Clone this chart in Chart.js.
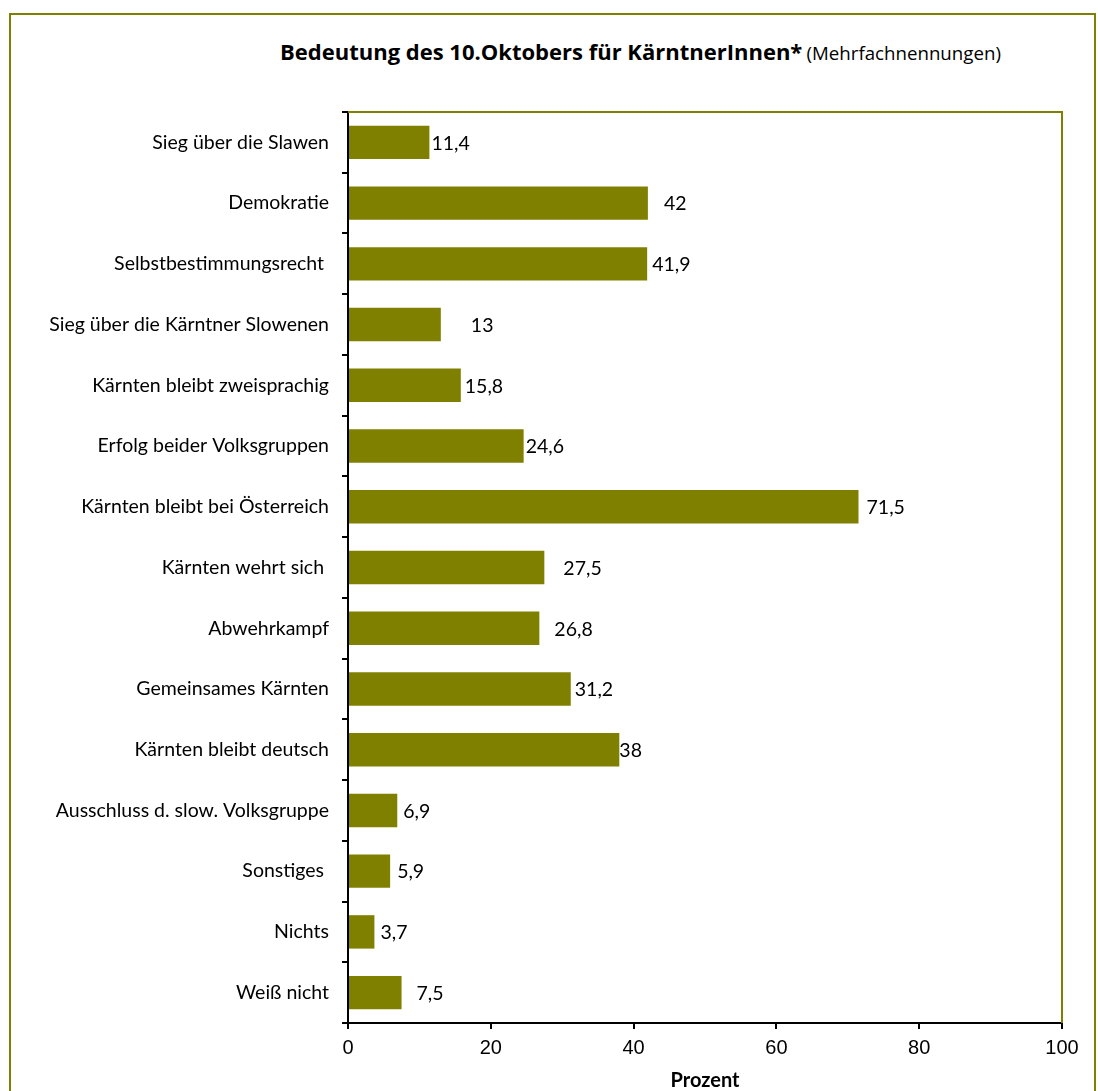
<!DOCTYPE html>
<html>
<head>
<meta charset="utf-8">
<script src="https://cdn.jsdelivr.net/npm/chart.js@4"></script>
<style>
  html, body { margin: 0; padding: 0; background: #fff; }
  #frame {
    position: absolute; left: 9px; top: 13px; width: 1087px; height: 1100px;
    border: 2px solid #808000; box-sizing: border-box;
  }
  #title {
    position: absolute; left: 280px; top: 36px; white-space: nowrap;
    font-family: "Open Sans", sans-serif; color: #000;
  }
  #title b { font-size: 22px; }
  #title span { font-size: 18.7px; }
  canvas { position: absolute; left: 0; top: 0; }
</style>
</head>
<body>
<div id="frame"></div>
<div id="title"><b>Bedeutung des 10.Oktobers für KärntnerInnen*</b> <span>(Mehrfachnennungen)</span></div>
<canvas id="chart" width="1098" height="1091"></canvas>
<script>
const categories = [
    'Sieg über die Slawen',
    'Demokratie',
    'Selbstbestimmungsrecht ',
    'Sieg über die Kärntner Slowenen',
    'Kärnten bleibt zweisprachig',
    'Erfolg beider Volksgruppen',
    'Kärnten bleibt bei Österreich',
    'Kärnten wehrt sich ',
    'Abwehrkampf',
    'Gemeinsames Kärnten',
    'Kärnten bleibt deutsch',
    'Ausschluss d. slow. Volksgruppe',
    'Sonstiges ',
    'Nichts',
    'Weiß nicht'
];
const prozent = [11.4, 42, 41.9, 13, 15.8, 24.6, 71.5, 27.5, 26.8, 31.2, 38, 6.9, 5.9, 3.7, 7.5];
const xTicks = [0, 20, 40, 60, 80, 100];

const olive = '#808000';

// labels were moved by hand in the original, so nudge them a bit
const labelNudge = [2, 16, 5, 30, 4, 2, 8, 19, 15, 4, 0, 6, 7, 6, 15];

const valueLabels = {
    id: 'valueLabels',
    afterDatasetsDraw(chart) {
        const ctx = chart.ctx;
        const meta = chart.getDatasetMeta(0);
        ctx.save();
        ctx.font = '19.5px Lato, sans-serif';
        ctx.fillStyle = '#000';
        ctx.textAlign = 'left';
        ctx.textBaseline = 'middle';
        meta.data.forEach((bar, i) => {
            const txt = String(prozent[i]).replace('.', ',');
            ctx.fillText(txt, bar.x + labelNudge[i], bar.y + 1);
        });
        ctx.restore();
    }
};

const plotBorder = {
    id: 'plotBorder',
    beforeDatasetsDraw(chart) {
        const a = chart.chartArea;
        const ctx = chart.ctx;
        ctx.save();
        ctx.strokeStyle = olive;
        ctx.lineWidth = 2;
        ctx.beginPath();
        ctx.moveTo(a.left, a.top);
        ctx.lineTo(a.right, a.top);
        ctx.lineTo(a.right, a.bottom);
        ctx.stroke();
        ctx.restore();
    }
};

const data = {
    labels: categories,
    datasets: [{
        label: 'Prozent',
        backgroundColor: olive,
        data: prozent,
        barPercentage: 0.55,
        categoryPercentage: 1
    }]
};

const config = {
    type: 'bar',
    data: data,
    options: {
        indexAxis: 'y',
        responsive: false,
        animation: false,
        devicePixelRatio: 1,
        layout: { padding: { top: 112, right: 36, left: 0, bottom: 0 } },
        plugins: {
            legend: { display: false },
            tooltip: { enabled: false }
        },
        scales: {
            y: {
                offset: true,
                afterFit: (scale) => { scale.width = 348; },
                grid: {
                    offset: true,
                    drawOnChartArea: false,
                    tickLength: 6,
                    color: '#000',
                    lineWidth: 2
                },
                border: { color: '#000', width: 2 },
                ticks: {
                    padding: 13,
                    color: '#000',
                    font: { family: 'Lato, sans-serif', size: 19.5 }
                }
            },
            x: {
                min: 0,
                max: 100,
                afterBuildTicks: (scale) => { scale.ticks = xTicks.map(v => ({ value: v })); },
                afterFit: (scale) => { scale.height = 68; },
                grid: {
                    drawOnChartArea: false,
                    tickLength: 6,
                    color: '#000',
                    lineWidth: 2
                },
                border: { color: '#000', width: 2 },
                ticks: {
                    padding: 7,
                    color: '#000',
                    font: { family: '"Liberation Sans", Arial, sans-serif', size: 20 }
                },
                title: {
                    display: true,
                    text: 'Prozent',
                    color: '#000',
                    padding: { top: 0, bottom: 0 },
                    font: { family: 'Lato, sans-serif', size: 20, weight: 'bold', lineHeight: 1 }
                }
            }
        }
    },
    plugins: [valueLabels, plotBorder]
};

const myChart = new Chart(document.getElementById('chart'), config);
</script>
</body>
</html>
